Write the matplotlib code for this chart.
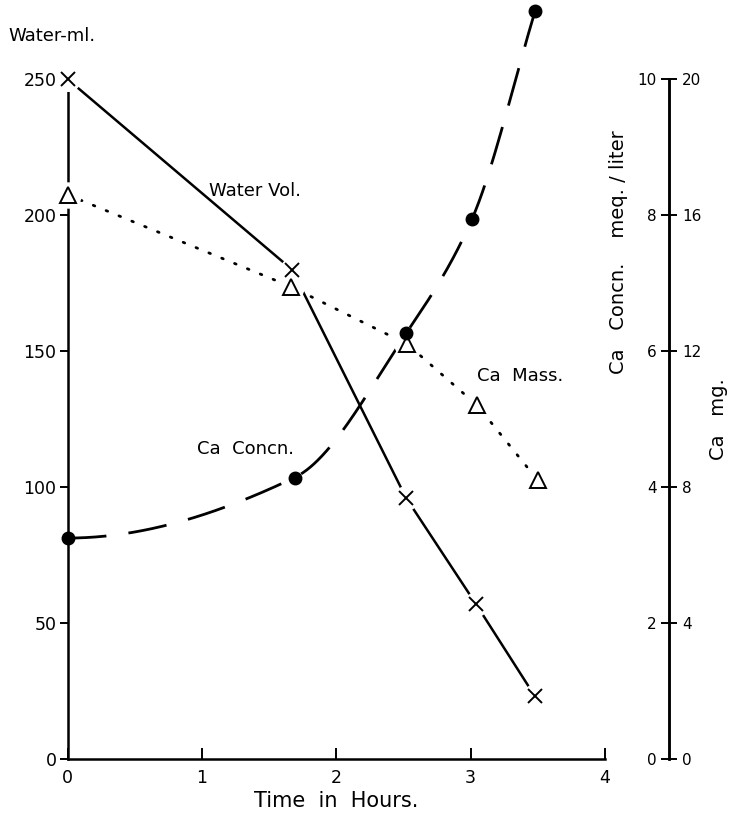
import matplotlib
matplotlib.use("Agg")
import matplotlib.pyplot as plt
import numpy as np

plt.rcParams.update({
    "font.family": "DejaVu Sans",
    "font.size": 11,
    "axes.linewidth": 1.8,
})

# hours
t_water = [0, 1.67, 2.52, 3.04, 3.48]
water_ml = [250, 180, 96, 57, 23]

t_mass = [0, 1.66, 2.53, 3.05, 3.50]
ca_mg = [16.6, 13.9, 12.2, 10.4, 8.2]

t_conc = [0, 1.69, 2.52, 3.01, 3.48]
ca_meq = [3.25, 4.14, 6.26, 7.94, 11.0]

left_ticks = [0, 50, 100, 150, 200, 250]
conc_ticks = [0, 2, 4, 6, 8, 10]
mg_ticks = [0, 4, 8, 12, 16, 20]
x_ticks = [0, 1, 2, 3, 4]


def hermite(x, y, xs):
    """Smooth monotone cubic through (x, y), starting level."""
    x = np.asarray(x, float)
    y = np.asarray(y, float)
    h = np.diff(x)
    d = np.diff(y) / h
    m = np.zeros_like(y)
    m[-1] = d[-1]
    for k in range(1, len(x) - 1):
        if d[k - 1] * d[k] > 0:
            w1 = 2 * h[k] + h[k - 1]
            w2 = h[k] + 2 * h[k - 1]
            m[k] = (w1 + w2) / (w1 / d[k - 1] + w2 / d[k])
    idx = np.clip(np.searchsorted(x, xs) - 1, 0, len(x) - 2)
    s = (xs - x[idx]) / h[idx]
    h00 = 2 * s**3 - 3 * s**2 + 1
    h10 = s**3 - 2 * s**2 + s
    h01 = -2 * s**3 + 3 * s**2
    h11 = s**3 - s**2
    return (h00 * y[idx] + h10 * h[idx] * m[idx]
            + h01 * y[idx + 1] + h11 * h[idx] * m[idx + 1])


fig = plt.figure(figsize=(7.29, 8.15), dpi=100)
ax = fig.add_axes([0.0927, 0.0687, 0.7371, 0.9276])

# both calcium series drawn on the water scale (0-250)
scale_conc = 25.0
scale_mg = 12.5
mass_y = np.array(ca_mg) * scale_mg
conc_y = np.array(ca_meq) * scale_conc

# water volume, solid with gaps around the crosses
ax.plot(t_water, water_ml, color="black", lw=1.8, zorder=2)
ax.plot(t_water, water_ml, ls="none", marker="o", ms=17, mfc="white",
        mec="white", zorder=3, clip_on=False)
ax.plot(t_water, water_ml, ls="none", marker="x", ms=10, mew=1.4,
        color="black", zorder=4, clip_on=False)

# calcium mass, dotted
ax.plot(t_mass, mass_y, color="black", lw=2.0,
        ls=(0, (0.6, 4.4)), dash_capstyle="round", zorder=2)
ax.plot(t_mass, mass_y, ls="none", marker="o", ms=18, mfc="white",
        mec="white", zorder=3, clip_on=False)
ax.plot(t_mass, mass_y, ls="none", marker="^", ms=12, mfc="white",
        mec="black", mew=1.4, zorder=5, clip_on=False)

# calcium concentration, dashed smooth curve
ts = np.linspace(t_conc[0], t_conc[-1], 400)
ax.plot(ts, hermite(t_conc, conc_y, ts), color="black", lw=2.0,
        ls=(0, (14, 8)), clip_on=False, zorder=2)
ax.plot(t_conc, conc_y, ls="none", marker="o", ms=9, color="black",
        clip_on=False, zorder=5)

ax.set_xlim(0, 4)
ax.set_ylim(0, 278)
ax.spines["top"].set_visible(False)
ax.spines["right"].set_visible(False)
ax.spines["left"].set_bounds(0, 250)
ax.set_xticks(x_ticks)
ax.set_yticks(left_ticks)
ax.tick_params(axis="x", direction="in", length=8, width=1.4, labelsize=12.5, pad=7)
ax.tick_params(axis="y", direction="out", length=6, width=1.4, labelsize=12.5, pad=2)
ax.set_xlabel("Time  in  Hours.", fontsize=15, labelpad=3)

ax.text(-0.44, 266, "Water-ml.", fontsize=13, ha="left", va="center")
ax.text(1.05, 209, "Water Vol.", fontsize=13, ha="left", va="center")
ax.text(0.965, 114, "Ca  Concn.", fontsize=13, ha="left", va="center")
ax.text(3.05, 141, "Ca  Mass.", fontsize=13, ha="left", va="center")

# right-hand double scale
rax = fig.add_axes([669 / 729, 0.0687, 0.0005, 680 / 815])
for s in ("top", "bottom", "right"):
    rax.spines[s].set_visible(False)
rax.set_xticks([])
rax.set_ylim(0, 10)
rax.set_yticks(conc_ticks)
rax.tick_params(axis="y", direction="out", length=6, width=1.4, labelsize=11, pad=3)
rax.set_ylabel("Ca   Concn.    meq. / liter", fontsize=14)
rax.yaxis.set_label_coords(-112, 0.745)

rax2 = rax.twinx()
for s in ("top", "bottom", "left"):
    rax2.spines[s].set_visible(False)
rax2.spines["right"].set_linewidth(1.8)
rax2.set_ylim(0, 20)
rax2.set_yticks(mg_ticks)
rax2.tick_params(axis="y", direction="out", length=6, width=1.4, labelsize=11, pad=3)
rax2.set_ylabel("Ca   mg.", fontsize=14)
rax2.yaxis.set_label_coords(111, 0.5)

fig.savefig("out.png", dpi=100)
